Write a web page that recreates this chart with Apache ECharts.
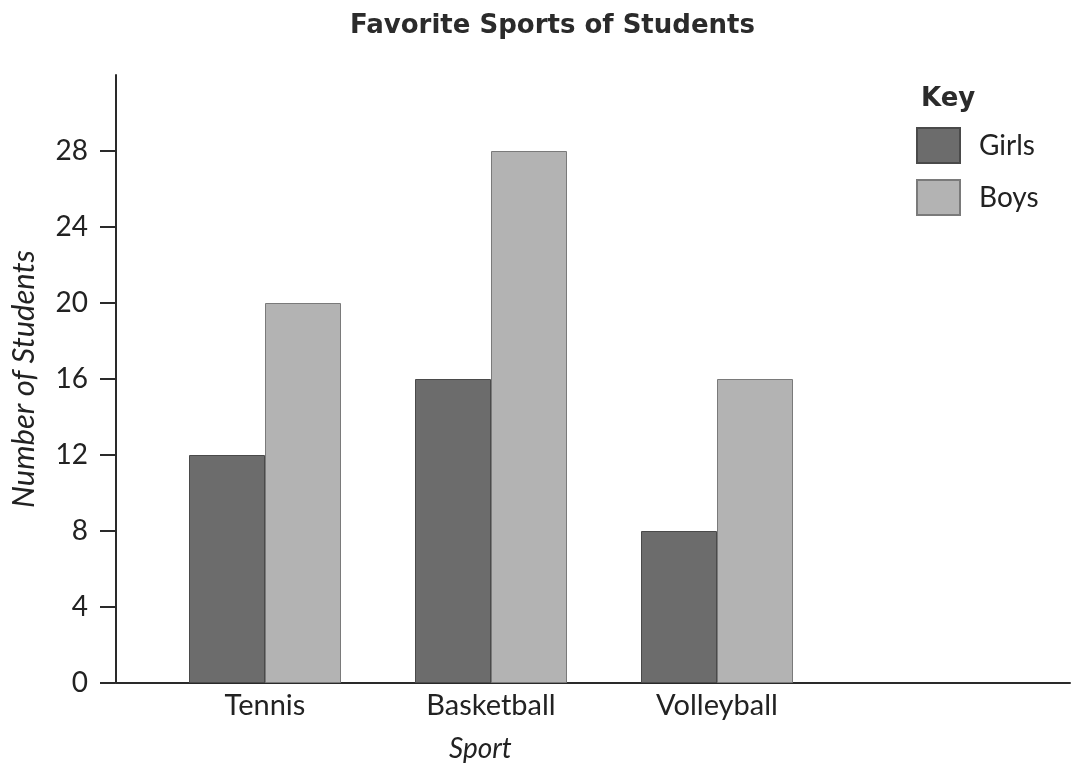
<!DOCTYPE html>
<html>
<head>
<meta charset="utf-8">
<script src="https://cdn.jsdelivr.net/npm/echarts@6/dist/echarts.min.js"></script>
<style>
html,body{margin:0;padding:0;background:#fff;}
#chart{width:1075px;height:766px;}
</style>
</head>
<body>
<div id="chart"></div>
<script>
const categories = ['Tennis', 'Basketball', 'Volleyball', ''];
const girls = [12, 16, 8, null];
const boys = [20, 28, 16, null];
const yTickMax = 28;
const yTickStep = 4;
const yAxisTop = 32;

const FONT = 'Lato, "Noto Sans", sans-serif';
const BOLD = '"DejaVu Sans", Lato, sans-serif';
const chart = echarts.init(document.getElementById('chart'));
chart.setOption({
  backgroundColor: '#ffffff',
  animation: false,
  title: [
    { text: 'Favorite Sports of Students', left: 345, top: 8,
      textStyle: { fontFamily: BOLD, fontWeight: 'bold', fontSize: 26, color: '#2b2b2b' } },
    { text: 'Key', left: 916, top: 81,
      textStyle: { fontFamily: BOLD, fontWeight: 'bold', fontSize: 26, color: '#2b2b2b' } },
    { text: 'Sport', left: 444, top: 730,
      textStyle: { fontFamily: FONT, fontStyle: 'italic', fontWeight: 'normal', fontSize: 28, color: '#222' } }
  ],
  legend: {
    orient: 'vertical', left: 916, top: 127, padding: 0, itemGap: 15,
    itemWidth: 43, itemHeight: 35, icon: 'rect',
    data: ['Girls', 'Boys'],
    textStyle: { fontFamily: FONT, fontSize: 28, color: '#222', padding: [0, 0, 0, 14] }
  },
  grid: [
    { left: 115, right: 5, top: 75, bottom: 83 },
    { left: 152, width: 904, top: 151, bottom: 83 }
  ],
  xAxis: [
    { type: 'value', gridIndex: 0, min: 0, max: 1,
      axisLine: { show: true, lineStyle: { color: '#2a2a2a', width: 2 } },
      axisTick: { show: false }, axisLabel: { show: false }, splitLine: { show: false } },
    { type: 'category', gridIndex: 1, data: categories,
      axisLine: { show: false }, axisTick: { show: false },
      axisLabel: { fontFamily: FONT, fontSize: 29, color: '#222', margin: 8 } }
  ],
  yAxis: [
    { type: 'value', gridIndex: 0, min: 0, max: yAxisTop,
      name: 'Number of Students', nameLocation: 'middle', nameGap: 77,
      nameTextStyle: { fontFamily: FONT, fontStyle: 'italic', fontSize: 31, color: '#222' },
      axisLine: { show: true, lineStyle: { color: '#2a2a2a', width: 2 } },
      axisTick: { show: false }, axisLabel: { show: false }, splitLine: { show: false } },
    { type: 'value', gridIndex: 1, min: 0, max: yTickMax, interval: yTickStep, offset: 37,
      axisLine: { show: false },
      axisTick: { show: true, length: 15, lineStyle: { color: '#2a2a2a', width: 2 } },
      axisLabel: { fontFamily: FONT, fontSize: 28, color: '#222', margin: 27 },
      splitLine: { show: false } }
  ],
  series: [
    { name: 'Girls', type: 'bar', xAxisIndex: 1, yAxisIndex: 1, data: girls,
      barWidth: 76, barGap: '0%',
      itemStyle: { color: '#6c6c6c', borderColor: '#4a4a4a', borderWidth: 1 } },
    { name: 'Boys', type: 'bar', xAxisIndex: 1, yAxisIndex: 1, data: boys,
      barWidth: 76, barGap: '0%',
      itemStyle: { color: '#b3b3b3', borderColor: '#7a7a7a', borderWidth: 1 } }
  ]
});
</script>
</body>
</html>
